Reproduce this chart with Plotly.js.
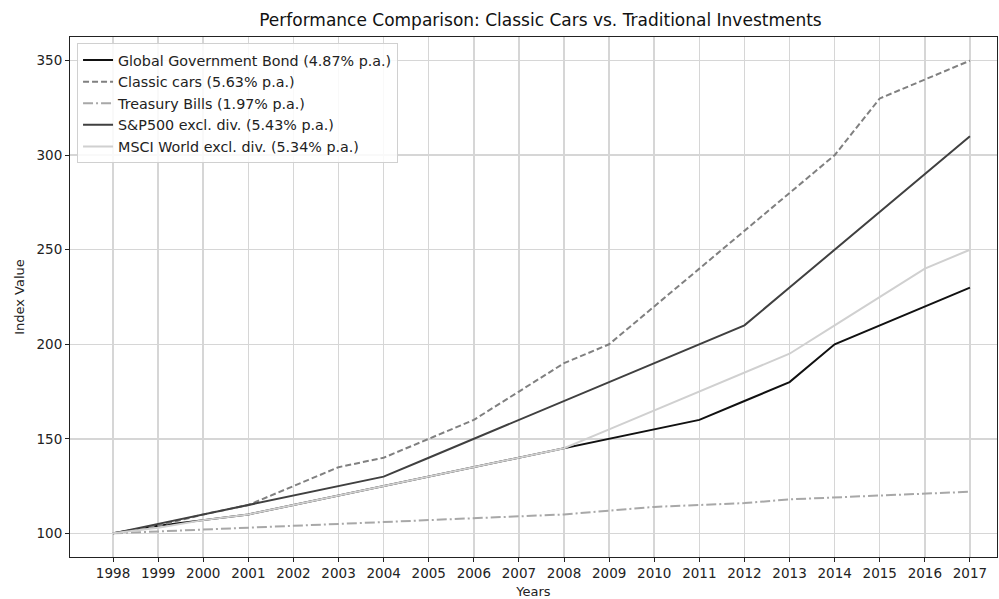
<!DOCTYPE html>
<html>
<head>
<meta charset="utf-8">
<script src="https://cdn.plot.ly/plotly-3.0.1.min.js"></script>
<style>
html,body{margin:0;padding:0;background:#fff;}
#chart{width:999px;height:599px;}
</style>
</head>
<body>
<div id="chart"></div>
<script>
const years = [1998,1999,2000,2001,2002,2003,2004,2005,2006,2007,2008,2009,2010,2011,2012,2013,2014,2015,2016,2017];
const bond = [100,104,107,110,115,120,125,130,135,140,145,150,155,160,170,180,200,210,220,230];
const classicCars = [100,104,110,115,125,135,140,150,160,175,190,200,220,240,260,280,300,330,340,350];
const tbills = [100,101,102,103,104,105,106,107,108,109,110,112,114,115,116,118,119,120,121,122];
const sp500 = [100,105,110,115,120,125,130,140,150,160,170,180,190,200,210,230,250,270,290,310];
const msci = [100,103,107,110,115,120,125,130,135,140,145,155,165,175,185,195,210,225,240,250];
const names = ["Global Government Bond (4.87% p.a.)","Classic cars (5.63% p.a.)","Treasury Bills (1.97% p.a.)","S&P500 excl. div. (5.43% p.a.)","MSCI World excl. div. (5.34% p.a.)"];

const traces = [
  {x: years, y: bond, name: names[0], mode: 'lines', line: {color: '#111111', width: 2}},
  {x: years, y: classicCars, name: names[1], mode: 'lines', line: {color: '#808080', width: 2, dash: '6px,3px'}},
  {x: years, y: tbills, name: names[2], mode: 'lines', line: {color: '#a8a8a8', width: 2, dash: '10px,3px,2px,3px'}},
  {x: years, y: sp500, name: names[3], mode: 'lines', line: {color: '#404040', width: 2}},
  {x: years, y: msci, name: names[4], mode: 'lines', line: {color: '#d0d0d0', width: 2}}
];

const fam = 'DejaVu Sans, sans-serif';
const layout = {
  width: 999, height: 599,
  margin: {l: 70, r: 2, t: 37, b: 42},
  paper_bgcolor: '#fff', plot_bgcolor: '#fff',
  font: {family: fam, size: 13, color: '#222'},
  title: {text: 'Performance Comparison: Classic Cars vs. Traditional Investments', font: {family: fam, size: 17, color: '#111'}, x: 0.541, xanchor: 'center', y: 0.966, yanchor: 'middle'},
  xaxis: {
    range: [1997.046, 2017.6], tickmode: 'array', tickvals: years, ticktext: years.map(String),
    showgrid: true, gridcolor: '#d6d6d6', gridwidth: 1.5, zeroline: false,
    showline: true, linecolor: '#222', linewidth: 1, mirror: true,
    ticks: 'outside', ticklen: 4, tickcolor: '#222',
    tickfont: {family: fam, size: 13.5, color: '#222'},
    title: {text: 'Years', font: {family: fam, size: 13, color: '#222'}, standoff: 6}
  },
  yaxis: {
    range: [87.5, 362.5], tickvals: [100,150,200,250,300,350],
    showgrid: true, gridcolor: '#d6d6d6', gridwidth: 1.5, zeroline: false,
    showline: true, linecolor: '#222', linewidth: 1, mirror: true,
    ticks: 'outside', ticklen: 4, tickcolor: '#222',
    tickfont: {family: fam, size: 13.5, color: '#222'},
    title: {text: 'Index Value', font: {family: fam, size: 13, color: '#222'}, standoff: 8}
  },
  showlegend: true,
  legend: {x: 0.0076, y: 0.988, xanchor: 'left', yanchor: 'top', bgcolor: 'rgba(255,255,255,0.85)', bordercolor: '#d0d0d0', borderwidth: 1, font: {family: fam, size: 14.3, color: '#222'}, tracegroupgap: 0}
};

Plotly.newPlot('chart', traces, layout, {displayModeBar: false, staticPlot: true});
</script>
</body>
</html>
